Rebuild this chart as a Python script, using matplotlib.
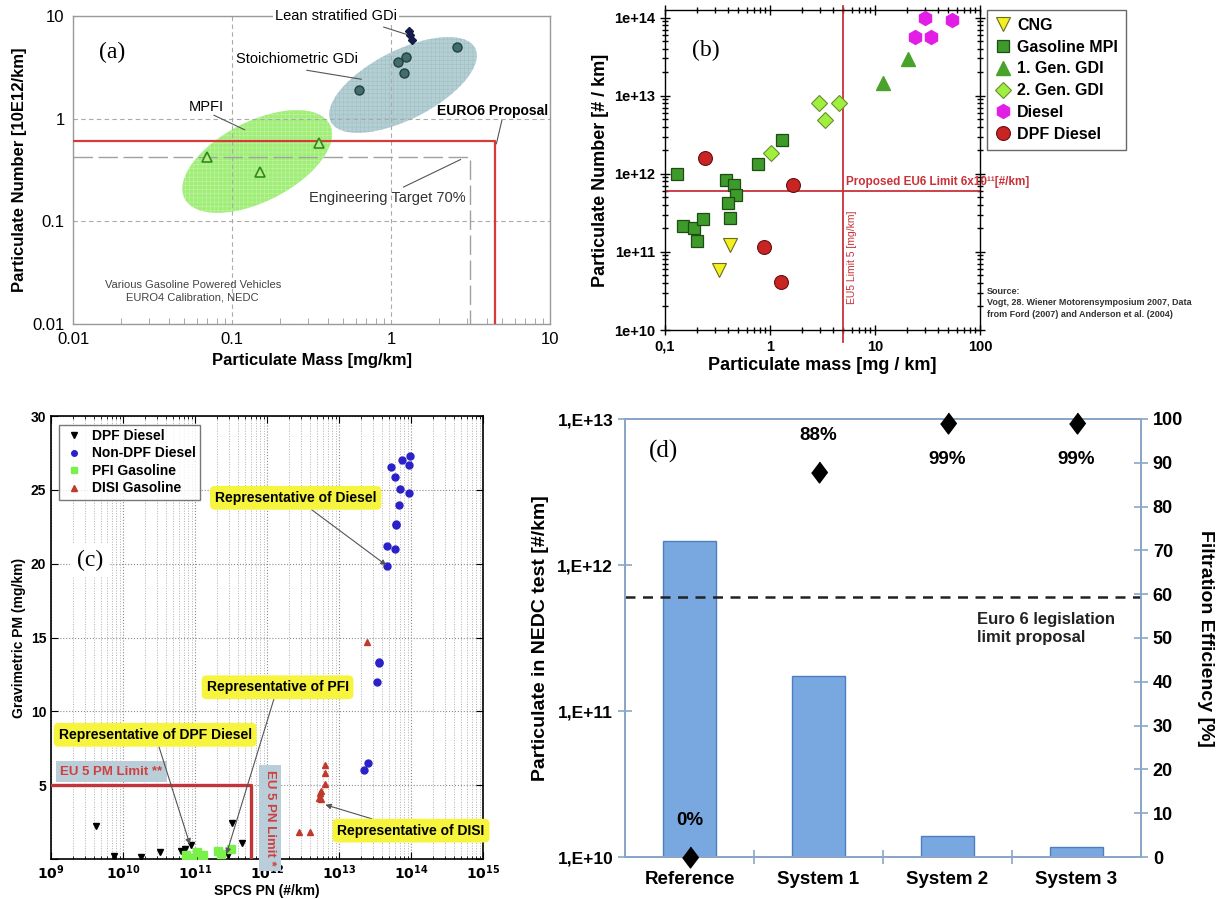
import numpy as np
import matplotlib
matplotlib.use("Agg")
import matplotlib.pyplot as plt
from matplotlib.patches import Ellipse
from matplotlib.transforms import ScaledTranslation
from matplotlib.ticker import LogLocator, NullLocator, NullFormatter, FixedLocator

plt.rcParams['font.family'] = ['Liberation Sans', 'DejaVu Sans']
plt.rcParams['hatch.linewidth'] = 0.35

# ---------------- (a) gasoline vehicles, PN vs PM ----------------
mpfi_pm = [0.07, 0.15, 0.35]
mpfi_pn = [0.42, 0.30, 0.58]
stoich_pm = [0.63, 1.10, 1.25, 1.20, 2.60]
stoich_pn = [1.90, 3.60, 4.00, 2.80, 5.00]
lean_pm = [1.29, 1.32, 1.36]
lean_pn = [7.1, 6.5, 5.9]
euro6_pm = 4.5
euro6_pn = 0.6
target_frac = 0.7
a_ticks = [0.01, 0.1, 1, 10]
a_ticklabels = ['0.01', '0.1', '1', '10']

# ---------------- (b) vehicle technologies ----------------
cng_pm = [0.42, 0.33]
cng_pn = [1.22e11, 5.8e10]
mpi_pm = [0.13, 0.38, 0.45, 0.47, 0.40, 0.42, 0.147, 0.19, 0.23, 0.20, 0.77, 1.29]
mpi_pn = [1.0e12, 8.3e11, 7.2e11, 5.3e11, 4.2e11, 2.7e11, 2.15e11, 2.0e11, 2.6e11, 1.37e11, 1.33e12, 2.7e12]
gdi1_pm = [12.0, 20.8]
gdi1_pn = [1.44e13, 2.95e13]
gdi2_pm = [1.03, 2.91, 4.52, 3.37]
gdi2_pn = [1.86e12, 7.98e12, 8.1e12, 4.9e12]
diesel_pm = [29.9, 53.7, 23.8, 34.3]
diesel_pn = [1.0e14, 9.3e13, 5.6e13, 5.6e13]
dpfd_pm = [0.243, 1.65, 0.87, 1.28]
dpfd_pn = [1.57e12, 7.2e11, 1.14e11, 4.1e10]
eu6_pn = 6e11
eu5_pm = 5
b_xticks = [0.1, 1, 10, 100]
b_xticklabels = ['0,1', '1', '10', '100']
b_yticks = [1e10, 1e11, 1e12, 1e13, 1e14]
b_yticklabels = ['1e+10', '1e+11', '1e+12', '1e+13', '1e+14']

# ---------------- (c) SPCS PN vs gravimetric PM ----------------
c_dpf_pn = [4.2e9, 7.4e9, 1.8e10, 3.3e10, 6.3e10, 7.3e10, 8.8e10, 1.05e11, 3.3e11, 4.5e11, 2.9e11]
c_dpf_pm = [2.25, 0.20, 0.15, 0.48, 0.57, 0.70, 0.95, 0.20, 2.45, 1.05, 0.30]
c_ndpf_pn = [5.25e13, 6.0e13, 7.5e13, 9.6e13, 9.4e13, 7.1e13, 9.3e13, 6.8e13, 6.1e13, 6.2e13,
             4.7e13, 6.0e13, 4.7e13, 3.56e13, 3.6e13, 3.34e13, 2.5e13, 2.2e13]
c_ndpf_pm = [26.55, 25.88, 27.0, 27.27, 26.71, 25.09, 24.79, 24.0, 22.72, 22.6,
             21.19, 20.98, 19.84, 13.37, 13.25, 12.02, 6.5, 6.05]
c_pfi_pn = [7.4e10, 1.07e11, 1.25e11, 2.1e11, 2.3e11, 3.2e11, 1.3e11, 9.0e10]
c_pfi_pm = [0.30, 0.45, 0.12, 0.55, 0.35, 0.65, 0.25, 0.10]
c_disi_pn = [6.4e12, 6.4e12, 6.4e12, 5.6e12, 5.4e12, 5.6e12, 5.3e12, 2.8e12, 3.9e12, 2.45e13]
c_disi_pm = [6.35, 5.85, 5.10, 4.60, 4.50, 4.05, 4.10, 1.85, 1.80, 14.7]
eu5_pm_limit = 5
eu5_pn_limit = 6e11
c_xticks = [1e9, 1e10, 1e11, 1e12, 1e13, 1e14, 1e15]
c_xticklabels = [r'$\mathbf{10^{%d}}$' % e for e in range(9, 16)]
c_yticks = [0, 5, 10, 15, 20, 25, 30]
c_yticklabels = ['', '5', '10', '15', '20', '25', '30']

# ---------------- (d) filter systems ----------------
systems = ['Reference', 'System 1', 'System 2', 'System 3']
pn_nedc = [1.45e12, 1.75e11, 1.4e10, 1.18e10]
efficiency = [0, 88, 99, 99]
eff_label_side = [1, 1, -1, -1]
euro6_limit = 6e11
d_yticks = [1e10, 1e11, 1e12, 1e13]
d_yticklabels = ['1,E+10', '1,E+11', '1,E+12', '1,E+13']
d_rticks = list(range(0, 101, 10))

W, H = 1223, 899
fig = plt.figure(figsize=(W / 100, H / 100), dpi=100)


def box(l, t, r, b):
    return [l / W, 1 - b / H, (r - l) / W, (b - t) / H]


# ======================= panel (a) =======================
ax = fig.add_axes(box(73, 16, 550, 324))
ax.set_xscale('log')
ax.set_yscale('log')
ax.set_xlim(0.01, 10)
ax.set_ylim(0.01, 10)
for s in ax.spines.values():
    s.set_color('#9a9a9a')
    s.set_linewidth(1.0)
ax.set_xticks(a_ticks)
ax.set_xticklabels(a_ticklabels)
ax.set_yticks(a_ticks)
ax.set_yticklabels(a_ticklabels)
ax.xaxis.set_minor_locator(LogLocator(base=10, subs=range(2, 10)))
ax.xaxis.set_minor_formatter(NullFormatter())
ax.yaxis.set_minor_locator(NullLocator())
ax.tick_params(which='major', length=0, labelsize=12, pad=6)
ax.tick_params(axis='x', which='minor', direction='in', length=4, color='#9a9a9a')
ax.grid(True, which='major', ls=(0, (4, 3)), color='#aaaaaa', lw=0.8)
ax.set_xlabel('Particulate Mass [mg/km]', fontsize=12, fontweight='bold', labelpad=4)
ax.set_ylabel('Particulate Number [10E12/km]', fontsize=12, fontweight='bold', labelpad=4)


def blob(axis, cx, cy, w_in, h_in, ang, fc, hc):
    tr = fig.dpi_scale_trans + ScaledTranslation(cx, cy, axis.transData)
    axis.add_patch(Ellipse((0, 0), w_in, h_in, angle=ang, transform=tr,
                           facecolor=fc, edgecolor='none', zorder=1))
    axis.add_patch(Ellipse((0, 0), w_in, h_in, angle=ang, transform=tr, fill=False,
                           hatch='++++', edgecolor=hc, lw=0, zorder=1.1))


blob(ax, 0.144, 0.383, 1.63, 0.80, 27, '#a0ed78', '#c4f6aa')
blob(ax, 1.19, 2.13, 1.62, 0.69, 27, '#b4cfd3', '#9fbfc4')

ax.plot([0.01, euro6_pm, euro6_pm], [euro6_pn, euro6_pn, 0.01], color='#d83a3a', lw=1.6,
        zorder=3)
ax.plot([0.01, euro6_pm * target_frac, euro6_pm * target_frac],
        [euro6_pn * target_frac, euro6_pn * target_frac, 0.01],
        color='#a0a0a0', lw=1.0, dashes=(14, 4), zorder=2)

ax.plot(mpfi_pm, mpfi_pn, ls='none', marker='^', ms=6.5, mfc='#b8ee8a', mec='#2e8a1a', mew=1.2,
        zorder=4)
ax.plot(stoich_pm, stoich_pn, ls='none', marker='o', ms=6.5, mfc='#3f6e6c', mec='#24403f',
        zorder=4)
ax.plot(lean_pm, lean_pn, ls='none', marker='D', ms=4.5, mfc='#151c4a', mec='#151c4a', zorder=4)

lc = '#555555'
ax.text(0.45, 10, 'Lean stratified GDi', ha='center', va='center', fontsize=10.5,
        bbox=dict(fc='white', ec='none', pad=1.5), zorder=6, clip_on=False)
ax.plot([0.90, 1.26], [7.8, 6.6], color=lc, lw=0.8, zorder=5)
ax.text(0.257, 3.84, 'Stoichiometric GDi', ha='center', va='center', fontsize=10.5, zorder=5)
ax.plot([0.296, 0.65], [2.96, 2.42], color=lc, lw=0.8, zorder=5)
ax.text(0.069, 1.30, 'MPFI', ha='center', va='center', fontsize=10.5, zorder=5)
ax.plot([0.077, 0.12], [1.08, 0.78], color=lc, lw=0.8, zorder=5)
ax.text(9.75, 1.19, 'EURO6 Proposal', ha='right', va='center', fontsize=10, fontweight='bold',
        zorder=5)
ax.plot([4.98, 4.6], [0.96, 0.57], color=lc, lw=0.8, zorder=5)
ax.text(0.95, 0.169, 'Engineering Target 70%', ha='center', va='center', fontsize=10.5,
        color='#333333', zorder=5)
ax.plot([1.2, 2.74], [0.216, 0.40], color=lc, lw=0.8, zorder=5)
ax.text(0.0566, 0.021, 'Various Gasoline Powered Vehicles\nEURO4 Calibration, NEDC',
        ha='center', va='center', fontsize=8, color='#444444', linespacing=1.3)
ax.text(0.083, 0.883, '(a)', transform=ax.transAxes, ha='center', va='center', fontsize=17,
        family='Liberation Serif')

# ======================= panel (b) =======================
bx = fig.add_axes(box(665, 10, 980, 330))
bx.set_xscale('log')
bx.set_yscale('log')
bx.set_xlim(0.1, 100)
bx.set_ylim(1e10, 1.25e14)
bx.set_xticks(b_xticks)
bx.set_xticklabels(b_xticklabels)
bx.set_yticks(b_yticks)
bx.set_yticklabels(b_yticklabels)
bx.xaxis.set_minor_locator(LogLocator(base=10, subs=range(2, 10)))
bx.yaxis.set_minor_locator(LogLocator(base=10, subs=range(2, 10)))
bx.xaxis.set_minor_formatter(NullFormatter())
bx.yaxis.set_minor_formatter(NullFormatter())
bx.tick_params(which='both', direction='inout', top=True, right=True, width=1.0)
bx.tick_params(which='major', length=7, labelsize=10.5)
bx.tick_params(which='minor', length=4)
for lab in bx.get_xticklabels() + bx.get_yticklabels():
    lab.set_fontweight('bold')
for s in bx.spines.values():
    s.set_linewidth(1.0)
bx.set_xlabel('Particulate mass [mg / km]', fontsize=13, fontweight='bold', labelpad=2)
bx.set_ylabel('Particulate Number [# / km]', fontsize=13, fontweight='bold', labelpad=4)

red = '#c8323a'
bx.axhline(eu6_pn, color=red, lw=1.3, zorder=2)
bx.plot([eu5_pm, eu5_pm], [7e9, 1.4e14], color=red, lw=1.3, zorder=2, clip_on=False)
bx.text(5.3, 7.9e11, 'Proposed EU6 Limit 6x10\u00b9\u00b9[#/km]', color=red, fontsize=8.5,
        fontweight='bold', ha='left', va='center', clip_on=False, zorder=3)
bx.text(6.1, 8.6e10, 'EU5 Limit 5 [mg/km]', color=red, fontsize=7.5, rotation=90,
        ha='center', va='center', zorder=3)

bx.plot(cng_pm, cng_pn, ls='none', marker='v', ms=10, mfc='#f4f020', mec='#6a6a20', mew=0.8,
        label='CNG', zorder=4)
bx.plot(mpi_pm, mpi_pn, ls='none', marker='s', ms=9, mfc='#3f9a2c', mec='#1d4d12', mew=0.9,
        label='Gasoline MPI', zorder=4)
bx.plot(gdi1_pm, gdi1_pn, ls='none', marker='^', ms=10.5, mfc='#48a22c', mec='#48a22c',
        label='1. Gen. GDI', zorder=4)
bx.plot(gdi2_pm, gdi2_pn, ls='none', marker='D', ms=8, mfc='#9ff03e', mec='#6c8c2c', mew=0.8,
        label='2. Gen. GDI', zorder=4)
bx.plot(diesel_pm, diesel_pn, ls='none', marker='h', ms=10, mfc='#e21ee6', mec='#e21ee6',
        label='Diesel', zorder=4, clip_on=False)
bx.plot(dpfd_pm, dpfd_pn, ls='none', marker='o', ms=10, mfc='#c82424', mec='#6a1010', mew=0.8,
        label='DPF Diesel', zorder=4)
leg = bx.legend(loc='upper left', bbox_to_anchor=(1.022, 1.0), borderaxespad=0,
                fancybox=False, edgecolor='#444444', prop=dict(weight='bold', size=11.5),
                handletextpad=0.4, borderpad=0.5, labelspacing=0.42, handlelength=1.0)
leg.get_frame().set_linewidth(1.0)
bx.text(1.022, 0.135, 'Source:\nVogt, 28. Wiener Motorensymposium 2007, Data\n'
        'from Ford (2007) and Anderson et al. (2004)', transform=bx.transAxes,
        ha='left', va='top', fontsize=6.5, fontweight='bold', color='#333333', linespacing=1.35)
bx.text(0.13, 0.875, '(b)', transform=bx.transAxes, ha='center', va='center', fontsize=17,
        family='Liberation Serif')

# ======================= panel (c) =======================
cx = fig.add_axes(box(51, 416, 483, 859))
cx.set_xscale('log')
cx.set_xlim(1e9, 1e15)
cx.set_ylim(0, 30)
cx.set_xticks(c_xticks)
cx.set_xticklabels(c_xticklabels)
cx.xaxis.set_minor_locator(LogLocator(base=10, subs=range(2, 10)))
cx.xaxis.set_minor_formatter(NullFormatter())
cx.set_yticks(c_yticks)
cx.set_yticklabels(c_yticklabels)
cx.tick_params(which='both', direction='in', top=True, right=True, labelsize=10)
cx.tick_params(which='major', length=5)
cx.tick_params(which='minor', length=2.5)
for lab in cx.get_yticklabels():
    lab.set_fontweight('bold')
cx.grid(True, which='major', ls=':', color='#8a8a8a', lw=0.8)
cx.grid(True, which='minor', axis='x', ls=':', color='#b0b0b0', lw=0.7)
for s in cx.spines.values():
    s.set_linewidth(1.2)
cx.set_xlabel('SPCS PN (#/km)', fontsize=10, fontweight='bold', labelpad=1)
cx.set_ylabel('Gravimetric PM (mg/km)', fontsize=10, fontweight='bold', labelpad=3)

cx.plot([1e9, eu5_pn_limit, eu5_pn_limit], [eu5_pm_limit, eu5_pm_limit, 0], color='#c0343a',
        lw=2.4, zorder=3)
cx.text(1.35e9, 5.9, 'EU 5 PM Limit **', color='#d04040', fontsize=9.5, fontweight='bold',
        ha='left', va='center', zorder=4,
        bbox=dict(boxstyle='square,pad=0.35', fc='#b9ced8', ec='none'))
cx.text(1.1e12, 2.8, 'EU 5 PN Limit *', color='#d04040', fontsize=9.5, fontweight='bold',
        rotation=-90, ha='center', va='center', zorder=4, clip_on=False,
        bbox=dict(boxstyle='square,pad=0.4', fc='#b9ced8', ec='none'))

cx.plot(c_dpf_pn, c_dpf_pm, ls='none', marker='v', ms=5, color='black', label='DPF Diesel',
        zorder=5)
cx.plot(c_ndpf_pn, c_ndpf_pm, ls='none', marker='o', ms=5, color='#2a22c8', label='Non-DPF Diesel',
        zorder=5)
cx.plot(c_pfi_pn, c_pfi_pm, ls='none', marker='s', ms=6, color='#7af04a', label='PFI Gasoline',
        zorder=5)
cx.plot(c_disi_pn, c_disi_pm, ls='none', marker='^', ms=5, color='#c0392b', label='DISI Gasoline',
        zorder=5)
lg = cx.legend(loc='upper left', bbox_to_anchor=(0.018, 0.98), borderaxespad=0, fancybox=False,
               edgecolor='#555555', prop=dict(weight='bold', size=10), markerscale=0.8,
               handletextpad=0.5, borderpad=0.3, labelspacing=0.25, handlelength=1.6)
lg.get_frame().set_linewidth(1.0)

ybox = dict(boxstyle='round,pad=0.35', fc='#f6f43c', ec='none')
arr = dict(arrowstyle='-|>', color='#555555', lw=0.8, mutation_scale=8, shrinkA=0, shrinkB=1)
cx.annotate('Representative of Diesel', xy=(4.7e13, 19.84), xytext=(2.5e12, 24.46),
            ha='center', va='center', fontsize=10, fontweight='bold', bbox=ybox,
            arrowprops=arr, zorder=6)
cx.annotate('Representative of PFI', xy=(2.7e11, 0.25), xytext=(1.4e12, 11.63),
            ha='center', va='center', fontsize=10, fontweight='bold', bbox=ybox,
            arrowprops=arr, zorder=6)
cx.annotate('Representative of DPF Diesel', xy=(8.6e10, 0.9), xytext=(2.8e10, 8.41),
            ha='center', va='center', fontsize=10, fontweight='bold', bbox=ybox,
            arrowprops=arr, zorder=6)
cx.annotate('Representative of DISI', xy=(6.2e12, 3.7), xytext=(1.0e14, 1.92),
            ha='center', va='center', fontsize=10, fontweight='bold', bbox=ybox,
            arrowprops=arr, zorder=6)
cx.text(0.09, 0.675, '(c)', transform=cx.transAxes, ha='center', va='center', fontsize=17,
        family='Liberation Serif', bbox=dict(fc='white', ec='none', pad=5), zorder=4)

# ======================= panel (d) =======================
sc = '#8aa6c8'
dx = fig.add_axes(box(625, 419, 1141, 857))
dx.set_yscale('log')
pos = np.arange(len(systems))
dx.bar(pos, pn_nedc, width=0.41, color='#79a8e0', edgecolor='#4d7fc0', lw=1.0, zorder=2)
dx.axhline(euro6_limit, color='#222222', lw=1.8, dashes=(4, 3), zorder=3)
dx.set_xlim(-0.5, len(systems) - 0.5)
dx.set_ylim(1e10, 1e13)
dx.set_yticks(d_yticks)
dx.set_yticklabels(d_yticklabels)
dx.yaxis.set_minor_locator(NullLocator())
dx.set_xticks(pos)
dx.set_xticklabels(systems)
dx.xaxis.set_minor_locator(FixedLocator(pos[:-1] + 0.5))
dx.tick_params(axis='x', which='major', length=0, labelsize=13.5, pad=10)
dx.tick_params(axis='x', which='minor', direction='inout', length=10, color=sc, width=1.2)
dx.tick_params(axis='y', which='major', direction='inout', length=10, color=sc, width=1.2,
               labelsize=12.5)
for lab in dx.get_xticklabels() + dx.get_yticklabels():
    lab.set_fontweight('bold')
for s in dx.spines.values():
    s.set_color(sc)
    s.set_linewidth(1.3)
dx.set_ylabel('Particulate in NEDC test [#/km]', fontsize=14, fontweight='bold', labelpad=6)
dx.text(2.23, 4.8e11, 'Euro 6 legislation\nlimit proposal', ha='left', va='top', fontsize=12,
        fontweight='bold', color='#222222', linespacing=1.3)
dx.text(0.074, 0.925, '(d)', transform=dx.transAxes, ha='center', va='center', fontsize=18,
        family='Liberation Serif')

rx = dx.twinx()
rx.set_ylim(0, 100)
rx.set_yticks(d_rticks)
rx.tick_params(axis='y', direction='inout', length=10, color=sc, width=1.2, labelsize=13)
for lab in rx.get_yticklabels():
    lab.set_fontweight('bold')
for s in rx.spines.values():
    s.set_color(sc)
    s.set_linewidth(1.3)
diamond = [(0, 1), (0.75, 0), (0, -1), (-0.75, 0)]
rx.plot(pos, efficiency, ls='none', marker=diamond, ms=15, color='black', zorder=5,
        clip_on=False)
for p, e, side in zip(pos, efficiency, eff_label_side):
    rx.annotate(f'{e}%', xy=(p, e), xytext=(0, 26 * side), textcoords='offset points',
                ha='center', va='center', fontsize=13.5, fontweight='bold')
rx.set_ylabel('Filtration Efficiency [%]', fontsize=14, fontweight='bold', rotation=270,
              labelpad=22)

fig.savefig('out.png', dpi=100)
